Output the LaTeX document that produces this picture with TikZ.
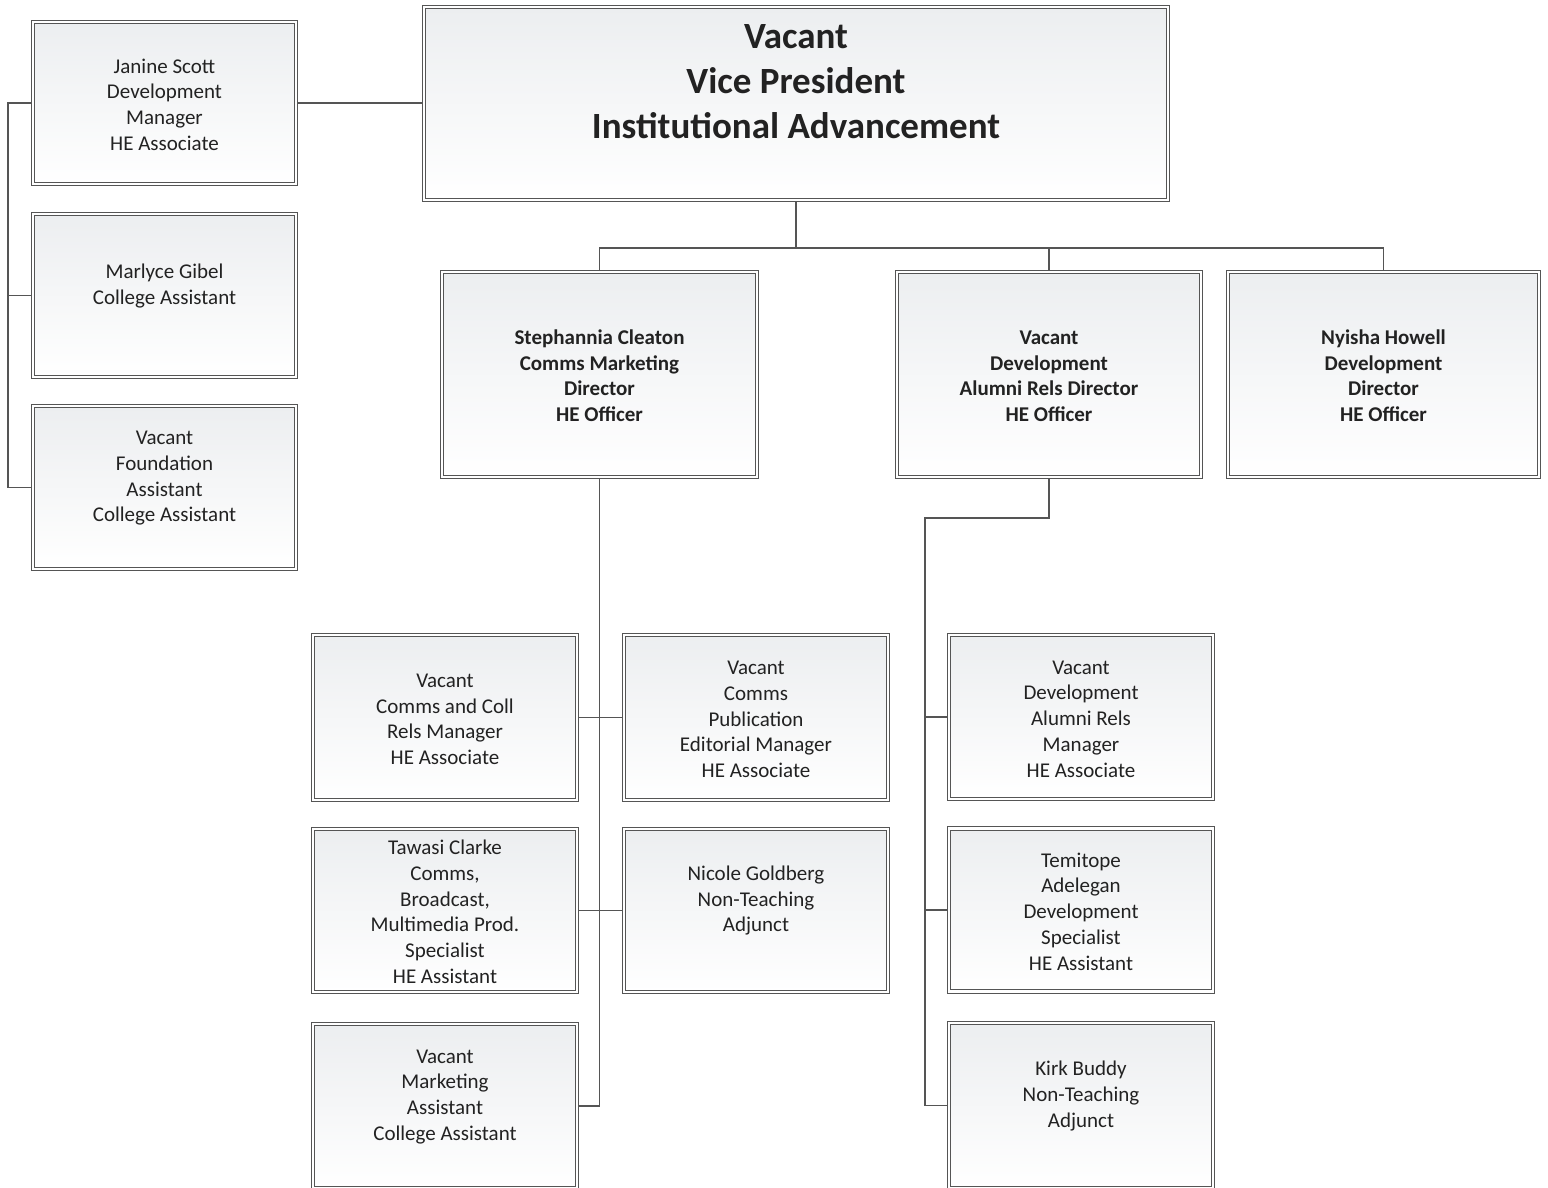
\documentclass[tikz,border=0pt]{standalone}
\usepackage{fontspec}
\setmainfont{Carlito}
\usetikzlibrary{backgrounds,shadows}
\definecolor{bordc}{HTML}{555555}
\definecolor{linec}{HTML}{555555}
\definecolor{topc}{HTML}{ECEEF0}
\definecolor{txtc}{HTML}{222222}
\newcommand\ts{\vrule height\dimexpr0.7\baselineskip+3.5pt\relax depth 0pt width 0pt}
\newcommand\tsbig{\vrule height\dimexpr0.7\baselineskip-2.8pt\relax depth 0pt width 0pt}
\tikzset{
  box/.style={draw=bordc, line width=0.6pt, double=white, double distance=1.1pt,
    top color=topc, bottom color=white, inner sep=0pt, align=center,
    text=txtc, font=\fontsize{10.5}{12.85}\selectfont,
    drop shadow={shadow xshift=0.8pt, shadow yshift=-0.8pt, opacity=0.12, fill=black}},
  boldbox/.style={box, font=\fontsize{10.5}{12.85}\selectfont\bfseries},
  conn/.style={draw=linec, line width=0.95pt},
}
\begin{document}
\begin{tikzpicture}[x=0.5pt,y=-0.5pt]
\useasboundingbox (0,0) rectangle (1548,1188);
% top-left column
\node[box, minimum width=131.5pt, minimum height=81pt] (janine) at (164.5,103) {\ts Janine Scott\\Development\\Manager\\HE Associate\strut};
\node[box, minimum width=131.5pt, minimum height=81.5pt] (marlyce) at (164.5,295.5) {\ts Marlyce Gibel\\College Assistant\\\strut};
\node[box, minimum width=131.5pt, minimum height=81.5pt] (found) at (164.5,487.5) {\ts Vacant\\Foundation\\Assistant\\College Assistant\\\strut};
% top
\node[box, minimum width=372pt, minimum height=96.5pt, font=\fontsize{18.5}{22.5}\selectfont\bfseries] (vp) at (796,103.5) {\tsbig Vacant\\Vice President\\Institutional Advancement\\};
% directors
\node[boldbox, minimum width=157.5pt, minimum height=102.5pt] (steph) at (599.5,374.5) {\ts Stephannia Cleaton\\Comms Marketing\\Director\\HE Officer\strut};
\node[boldbox, minimum width=152pt, minimum height=102.5pt] (vdev) at (1049,374.5) {\ts Vacant\\Development\\Alumni Rels Director\\HE Officer\strut};
\node[boldbox, minimum width=155.5pt, minimum height=102.5pt] (nyisha) at (1383.5,374.5) {\ts Nyisha Howell\\Development\\Director\\HE Officer\strut};
% comms staff
\node[box, minimum width=132pt, minimum height=82.5pt] (commcoll) at (445,717.5) {\ts Vacant\\Comms and Coll\\Rels Manager\\HE Associate\strut};
\node[box, minimum width=132pt, minimum height=82.5pt] (pub) at (756,717.5) {\ts Vacant\\Comms\\Publication\\Editorial Manager\\HE Associate\strut};
\node[box, minimum width=132pt, minimum height=81.5pt] (tawasi) at (445,910.5) {\ts Tawasi Clarke\\Comms,\\Broadcast,\\Multimedia Prod.\\Specialist\\HE Assistant\strut};
\node[box, minimum width=132pt, minimum height=81.5pt] (nicole) at (756,910.5) {\ts Nicole Goldberg\\Non-Teaching\\Adjunct\\\strut};
\node[box, minimum width=132pt, minimum height=82pt] (market) at (445,1106) {\ts Vacant\\Marketing\\Assistant\\College Assistant\\\strut};
% development staff
\node[box, minimum width=132pt, minimum height=82pt] (alumni) at (1081,717) {\ts Vacant\\Development\\Alumni Rels\\Manager\\HE Associate\strut};
\node[box, minimum width=132pt, minimum height=81.5pt] (temitope) at (1081,910) {\ts Temitope\\Adelegan\\Development\\Specialist\\HE Assistant\strut};
\node[box, minimum width=132pt, minimum height=82.5pt] (kirk) at (1081,1105.5) {\ts Kirk Buddy\\Non-Teaching\\Adjunct\\\strut};
% connectors
\begin{scope}[on background layer]
\fill[white] (0,0) rectangle (1548,1188);
\coordinate (lb) at (8,0);
\coordinate (bus) at (0,248);
\coordinate (rb) at (925,518);
\draw[conn] (janine.east) -- (janine.east -| vp.west);
\draw[conn] (janine.west) -- (janine.west -| lb) -- (found.west -| lb) -- (found.west);
\draw[conn] (marlyce.west) -- (marlyce.west -| lb);
\draw[conn] (vp.south) -- (vp.south |- bus);
\draw[conn] (steph.north) -- (steph.north |- bus) -- (nyisha.north |- bus) -- (nyisha.north);
\draw[conn] (vdev.north) -- (vdev.north |- bus);
\draw[conn] (steph.south) -- (steph.south |- market.east) -- (market.east);
\draw[conn] (commcoll.east) -- (pub.west);
\draw[conn] (tawasi.east) -- (nicole.west);
\draw[conn] (vdev.south) -- (vdev.south |- rb) -- (rb) -- (rb |- kirk.west) -- (kirk.west);
\draw[conn] (alumni.west) -- (alumni.west -| rb);
\draw[conn] (temitope.west) -- (temitope.west -| rb);
\end{scope}
\end{tikzpicture}
\end{document}
